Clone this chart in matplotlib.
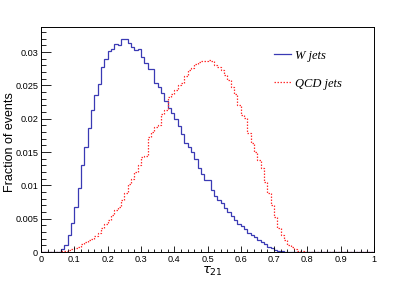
import numpy as np
import matplotlib.pyplot as plt
from matplotlib.ticker import MultipleLocator, FuncFormatter

# 100 bins of width 0.01 on tau21 in [0, 1]
bin_edges = np.linspace(0.0, 1.0, 101)

w_jets = [
  0, 0, 0, 0, 0, 0.00005, 0.0004, 0.00105, 0.0025, 0.0043,
  0.0067, 0.0096, 0.0131, 0.0158, 0.0186, 0.0213, 0.0236, 0.0252, 0.0277, 0.0290,
  0.0302, 0.0305, 0.0312, 0.0311, 0.0320, 0.0320, 0.0314, 0.0308, 0.0303, 0.0305,
  0.0293, 0.0283, 0.0274, 0.0274, 0.0253, 0.0248, 0.0239, 0.0227, 0.0216, 0.0208,
  0.0199, 0.0189, 0.0177, 0.0164, 0.0158, 0.0150, 0.0139, 0.0126, 0.0117, 0.0108,
  0.0108, 0.0093, 0.0084, 0.0078, 0.0073, 0.0066, 0.0060, 0.0054, 0.0048, 0.0042,
  0.0039, 0.0034, 0.0028, 0.0026, 0.0022, 0.0018, 0.0015, 0.0012, 0.0008, 0.00055,
  0.0003, 0.0002, 0.0001, 0.00005, 0.00003, 0.00002, 0.00001, 0, 0, 0,
  0, 0, 0, 0, 0, 0, 0, 0, 0, 0,
  0, 0, 0, 0, 0, 0, 0, 0, 0, 0,
]

qcd_jets = [
  0, 0, 0, 0, 0.00002, 0.00005, 0.0001, 0.0002, 0.0003, 0.0004,
  0.00055, 0.0008, 0.0012, 0.00155, 0.0018, 0.0020, 0.0024, 0.0028, 0.0036, 0.0042,
  0.0048, 0.0056, 0.0063, 0.0067, 0.0078, 0.0088, 0.0102, 0.0110, 0.0120, 0.0131,
  0.0142, 0.0144, 0.0173, 0.0180, 0.0188, 0.0191, 0.0207, 0.0213, 0.0233, 0.0237,
  0.0243, 0.0250, 0.0254, 0.0264, 0.0273, 0.0276, 0.0282, 0.0285, 0.0286, 0.0286,
  0.0288, 0.0286, 0.0280, 0.0277, 0.0273, 0.0266, 0.0258, 0.0248, 0.0237, 0.0221,
  0.0206, 0.0201, 0.0178, 0.0163, 0.0150, 0.0138, 0.0126, 0.0105, 0.0088, 0.0071,
  0.0053, 0.0036, 0.0026, 0.0018, 0.00105, 0.0007, 0.0004, 0.0002, 0.0001, 0,
  0, 0, 0, 0, 0, 0, 0, 0, 0, 0,
  0, 0, 0, 0, 0, 0, 0, 0, 0, 0,
]

fig = plt.figure(figsize=(4.15, 2.81), dpi=100)
ax = fig.add_axes([41 / 415, 29 / 281, 333 / 415, 225 / 281])

ax.stairs(w_jets, bin_edges, color='#3a3ab4', lw=0.9, label='W jets')
ax.stairs(qcd_jets, bin_edges, color='#ff3030', lw=0.9, ls=(0, (1.2, 1.2)), label='QCD jets')

ax.set_xlim(0, 1)
ax.set_ylim(0, 0.03375)

ax.xaxis.set_major_locator(MultipleLocator(0.1))
ax.xaxis.set_minor_locator(MultipleLocator(0.02))
ax.yaxis.set_major_locator(MultipleLocator(0.005))
ax.yaxis.set_minor_locator(MultipleLocator(0.001))

def fmt(v, pos):
  s = f'{v:.3f}'.rstrip('0').rstrip('.')
  return s

ax.xaxis.set_major_formatter(FuncFormatter(fmt))
ax.yaxis.set_major_formatter(FuncFormatter(fmt))

ax.tick_params(which='both', direction='in', top=False, right=False,
               labelsize=6.6, width=0.6, pad=2)
ax.tick_params(axis='x', which='major', length=4.5)
ax.tick_params(axis='x', which='minor', length=2.2)
ax.tick_params(axis='y', which='major', length=7)
ax.tick_params(axis='y', which='minor', length=3.5)
for lbl in ax.get_xticklabels() + ax.get_yticklabels():
  lbl.set_family('Liberation Sans')
for sp in ax.spines.values():
  sp.set_linewidth(0.7)

ax.set_xlabel(r'$\tau_{21}$', fontsize=9.5)
ax.xaxis.set_label_coords(0.515, -0.058)
ax.set_ylabel('Fraction of events', fontsize=9, family='Liberation Sans')
ax.yaxis.set_label_coords(-0.074, 0.49)

ax.legend(loc='upper left', bbox_to_anchor=(0.665, 0.95), frameon=False,
          handlelength=1.4, handletextpad=0.3, labelspacing=1.3,
          prop={'family': 'Liberation Serif', 'style': 'italic', 'size': 9})

fig.savefig('out.png', dpi=100)
